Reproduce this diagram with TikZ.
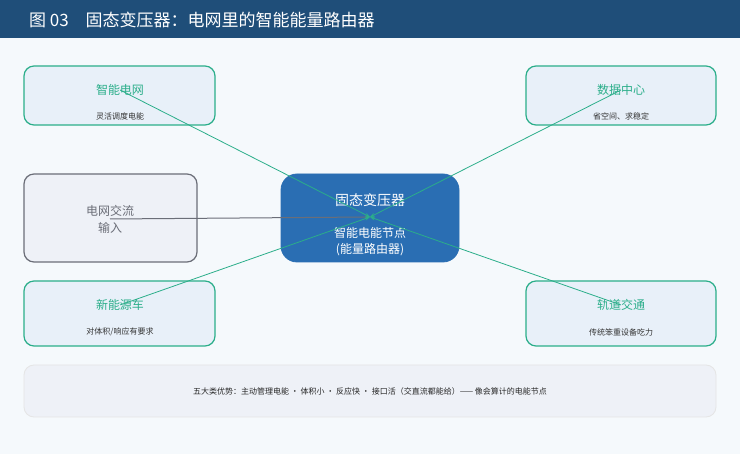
\documentclass[tikz,border=0pt]{standalone}
\usepackage{fontspec}
\setmainfont{Noto Sans CJK SC}
\usetikzlibrary{positioning, arrows.meta}
\definecolor{hdrblue}{HTML}{1F4E79}
\definecolor{pagebg}{HTML}{F5F9FC}
\definecolor{appgreen}{HTML}{2BAE8A}
\definecolor{appfill}{HTML}{E8F0F9}
\definecolor{corefill}{HTML}{2A6EB3}
\definecolor{ingray}{HTML}{6B6E78}
\definecolor{infill}{HTML}{EEF1F7}
\tikzset{
  app/.style={draw=appgreen, fill=appfill, rounded corners=5pt, line width=0.6pt},
  apptitle/.style={text=appgreen, font=\fontsize{6}{7}\selectfont},
  appnote/.style={text=black!80, font=\fontsize{4}{5}\selectfont},
  link/.style={appgreen, line width=0.4pt, -{Stealth[length=2.5pt]}}
}
\begin{document}
\begin{tikzpicture}[x=0.5pt, y=-0.5pt]
  \useasboundingbox (0,0) rectangle (740,454);
  \fill[pagebg] (0,0) rectangle (740,454);
  % header bar
  \fill[hdrblue] (0,0) rectangle (740,38);
  \node[anchor=west, text=white, font=\fontsize{8.5}{10}\selectfont] (title) at (22,20) {图 03\quad 固态变压器：电网里的智能能量路由器};

  % application boxes
  \draw[app] (24,66) rectangle (215,125);
  \node[apptitle] (grid) at (120,90) {智能电网};
  \node[appnote] (gridnote) at (120,116) {灵活调度电能};
  \draw[app] (526,66) rectangle (716,125);
  \node[apptitle] (dc) at (621,90) {数据中心};
  \node[appnote] (dcnote) at (621,116) {省空间、求稳定};
  \draw[app] (24,281) rectangle (215,346);
  \node[apptitle] (ev) at (120,305) {新能源车};
  \node[appnote] (evnote) at (120,332) {对体积/响应有要求};
  \draw[app] (526,281) rectangle (716,346);
  \node[apptitle] (rail) at (621,305) {轨道交通};
  \node[appnote] (railnote) at (621,332) {传统笨重设备吃力};

  % grid input
  \draw[ingray, fill=infill, rounded corners=5pt, line width=0.6pt] (24,174) rectangle (197,262);
  \node[text=ingray, align=center, font=\fontsize{6}{8.5}\selectfont] (acin) at (110,219) {电网交流\\输入};

  % core node
  \draw[fill=corefill, draw=corefill, rounded corners=8pt] (281,174) rectangle (459,262);
  \node[text=white, font=\fontsize{7}{8}\selectfont] (sst) at (370,200) {固态变压器};
  \node[text=white, align=center, font=\fontsize{6}{8}\selectfont] (sstnote) at (370,242) {智能电能节点\\(能量路由器)};
  \coordinate (hub) at (370,217);

  % connectors
  \draw[ingray, line width=0.5pt, -{Stealth[length=2.5pt]}] (acin.center) -- (hub);
  \foreach \n in {grid, dc, ev, rail}
    \draw[link] (\n.center) -- (hub);

  % summary panel
  \draw[black!10, fill=infill, rounded corners=5pt] (24,365) rectangle (716,417);
  \node[text=black!85, font=\fontsize{4}{5}\selectfont] (summary) at (370,391) {五大类优势：主动管理电能 · 体积小 · 反应快 · 接口活（交直流都能给）—— 像会算计的电能节点};
\end{tikzpicture}
\end{document}
